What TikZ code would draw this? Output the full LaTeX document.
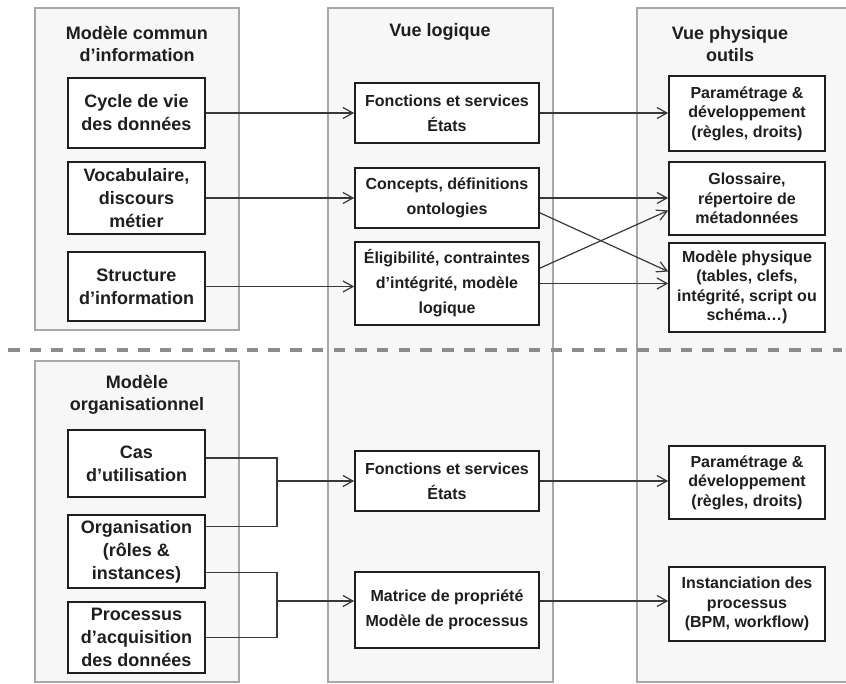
\documentclass[tikz,border=0pt]{standalone}
\usepackage{fontspec}
\setmainfont{Liberation Sans}
\usetikzlibrary{arrows.meta}
\definecolor{colfill}{HTML}{F7F7F7}
\definecolor{colline}{HTML}{A8A8A8}
\definecolor{ink}{HTML}{1E1E1E}
\definecolor{wire}{HTML}{383838}
\definecolor{sep}{HTML}{8C8C8C}

\begin{document}
\begin{tikzpicture}[x=1pt,y=-1pt,
  column/.style={draw=colline, fill=colfill, line width=1.6pt},
  title/.style={font=\bfseries\fontsize{18}{22}\selectfont, align=center, text=ink, inner sep=0pt},
  item/.style={draw=ink, fill=white, line width=1.6pt, align=center, text=ink, inner sep=0pt},
  lbox/.style={item, minimum width=137pt, font=\bfseries\fontsize{18}{23}\selectfont},
  mbox/.style={item, minimum width=184pt, font=\bfseries\fontsize{16}{25}\selectfont},
  rbox/.style={item, minimum width=156pt, font=\bfseries\fontsize{16}{19.5}\selectfont},
  link/.style={draw=wire, line width=1.2pt},
  flow/.style={link, -{Straight Barb[length=10pt,width=11pt]}},
  divider/.style={draw=sep, line width=4pt, dash pattern=on 11.5pt off 10.2pt}
]
\useasboundingbox (0,0) rectangle (846,684);
\clip (0,0) rectangle (846,684);

% background columns
\path[column] (35,8) rectangle (239,330);
\path[column] (35,361) rectangle (239,682);
\path[column] (328,8) rectangle (553,682);
\path[column] (637,8) rectangle (880,682);

% separator between the two layers
\draw[divider] (8,350) -- (842,350);

% column titles
\node[title] (tA) at (137,44) {Modèle commun\\d’information};
\node[title] (tB) at (440,32) {Vue logique};
\node[title] (tC) at (730,44) {Vue physique\\outils};
\node[title] (tD) at (137,395) {Modèle\\organisationnel};

% information model
\node[lbox, minimum height=70pt] (cycle) at (136.5,113) {Cycle de vie\\des données};
\node[lbox, minimum height=72pt] (vocab) at (136.5,198) {Vocabulaire,\\discours\\métier};
\node[lbox, minimum height=69pt] (struct) at (136.5,286.5) {Structure\\d’information};

\node[mbox, minimum height=60pt] (fs1) at (447,113) {Fonctions et services\\États};
\node[mbox, minimum height=60pt] (concepts) at (447,198) {Concepts, définitions\\ontologies};
\node[mbox, minimum height=83pt] (elig) at (447,283.5) {Éligibilité, contraintes\\d’intégrité, modèle\\logique};

\node[rbox, minimum height=75pt] (param1) at (747,113.5) {Paramétrage \&\\développement\\(règles, droits)};
\node[rbox, minimum height=73pt] (gloss) at (747,198.5) {Glossaire,\\répertoire de\\métadonnées};
\node[rbox, minimum height=89pt] (phys) at (747,287.5) {Modèle physique\\(tables, clefs,\\intégrité, script ou\\schéma…)};

% organisational model
\node[lbox, minimum height=67pt] (cas) at (136.5,463.5) {Cas\\d’utilisation};
\node[lbox, minimum height=73pt] (orga) at (136.5,551.5) {Organisation\\(rôles \&\\instances)};
\node[lbox, minimum height=71pt] (proc) at (136.5,637.5) {Processus\\d’acquisition\\des données};

\node[mbox, minimum height=60pt] (fs2) at (447,481) {Fonctions et services\\États};
\node[mbox, minimum height=76pt] (matrice) at (447,610) {Matrice de propriété\\Modèle de processus};

\node[rbox, minimum height=73pt] (param2) at (747,482.5) {Paramétrage \&\\développement\\(règles, droits)};
\node[rbox, minimum height=74pt] (inst) at (747,604) {Instanciation des\\processus\\(BPM, workflow)};

% top layer connectors
\draw[flow] (cycle.east) -- (cycle.east -| fs1.west);
\draw[flow] (fs1.east) -- (fs1.east -| param1.west);
\draw[flow] (vocab.east) -- (vocab.east -| concepts.west);
\draw[flow] (concepts.east) -- (concepts.east -| gloss.west);
\draw[flow] (struct.east) -- (struct.east -| elig.west);
\draw[flow] (elig.east) -- (elig.east -| phys.west);
\draw[flow] ([yshift=16pt]concepts.south east) -- ([yshift=16pt]phys.west);
\draw[flow] ([yshift=-27pt]elig.north east) -- ([yshift=-12pt]gloss.west);

% bottom layer connectors
\coordinate (j1) at (277,481);
\coordinate (j2) at (277,601);
\draw[link] ([yshift=5.5pt]cas.east) -| (j1) |- ([yshift=-12pt]orga.north east);
\draw[flow] (j1) -- (j1 -| fs2.west);
\draw[flow] (fs2.east) -- (fs2.east -| param2.west);
\draw[link] ([yshift=16pt]orga.south east) -| (j2) |- (proc.east);
\draw[flow] (j2) -- (j2 -| matrice.west);
\draw[flow] (j2 -| matrice.east) -- (j2 -| inst.west);
\end{tikzpicture}
\end{document}
